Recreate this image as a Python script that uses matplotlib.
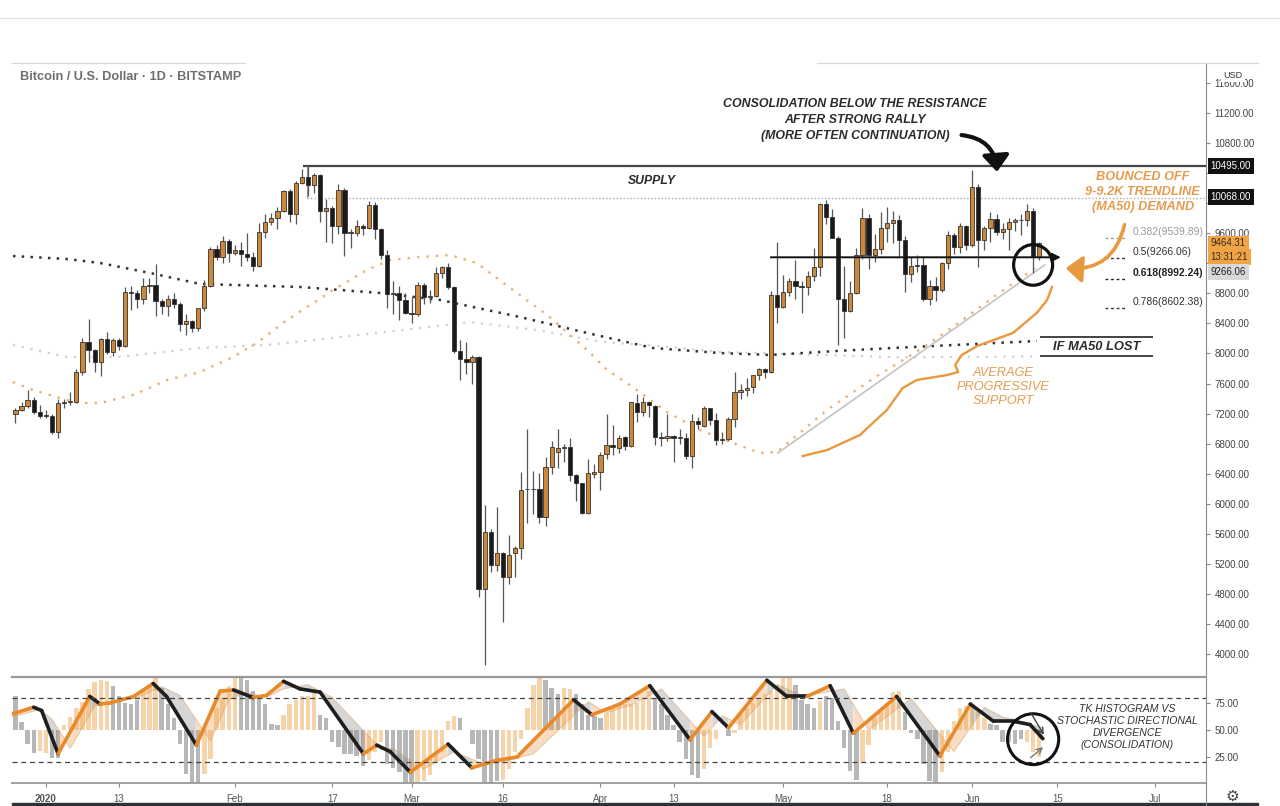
import numpy as np
import matplotlib.pyplot as plt
from matplotlib.patches import Ellipse, FancyArrowPatch, Rectangle
from matplotlib.lines import Line2D
import matplotlib.transforms as mtransforms

plt.rcParams['font.family'] = ['Liberation Sans', 'DejaVu Sans']

# ---- daily candles, day 0 = 2020-01-01 (Dec 27 2019 .. Jun 12 2020) ----
days = np.arange(-5, 164)
opens = [7195, 7245, 7300, 7385, 7225,
         7175, 7165, 6960, 7340, 7355, 7360, 7760, 8150, 8050, 7880, 8190, 8020, 8175, 8100, 8820, 8810,
         8720, 8900, 8910, 8700, 8630, 8730, 8660, 8390, 8430, 8340, 8600, 8900, 9390, 9290, 9500,
         9340, 9380, 9320, 9290, 9160, 9620, 9750, 9800, 9900, 10160, 9850, 10270, 10350, 10240, 10380,
         9900, 9930, 9700, 10180, 9600, 9610, 9690, 9670, 9970, 9660, 9310, 8790, 8810, 8710,
         8540, 8530, 8910, 8750, 8760, 9070, 9150, 8890, 8030, 7930, 7890, 7950, 4870, 5620, 5180, 5350,
         5030, 5340, 5410, 6190, 6200, 6190, 5820, 6490, 6690, 6740, 6760, 6380, 6270, 5880, 6400,
         6420, 6660, 6780, 6740, 6890, 6770, 7340, 7220, 7350, 7300, 6890, 6880, 6900, 6870, 6880,
         6630, 7100, 7030, 7270, 7120, 6850, 6860, 7130, 7490, 7520, 7550, 7720, 7790, 7760, 8780,
         8620, 8820, 8970, 8900, 8890, 9030, 9150, 9990, 9810, 9540, 8730, 8570, 8810, 9310, 9800, 9310,
         9390, 9670, 9730, 9780, 9510, 9060, 9170, 9180, 8720, 8900, 8840, 9210, 9580, 9420, 9700,
         9450, 10210, 9510, 9670, 9790, 9620, 9660, 9750, 9780, 9770, 9890, 9280]
highs = [7280, 7360, 7520, 7420, 7320,
         7245, 7200, 7400, 7390, 7490, 7790, 8200, 8460, 8060, 8200, 8290, 8200, 8200, 8880, 8900, 8850,
         9000, 9000, 9190, 8730, 8780, 8800, 8680, 8520, 8440, 8600, 8980, 9420, 9440, 9570, 9530,
         9440, 9480, 9600, 9350, 9740, 9850, 9870, 9950, 10170, 10190, 10300, 10450, 10495, 10400, 10390,
         10050, 9960, 10250, 10200, 9650, 9770, 9720, 10030, 10020, 9670, 9380, 8970, 8900, 8800,
         8750, 8950, 8940, 8850, 9150, 9170, 9200, 8900, 8180, 8150, 7980, 7970, 5980, 5660, 5950, 5360,
         5580, 5440, 6420, 7000, 6440, 6410, 6620, 6830, 7000, 6790, 6870, 6390, 6280, 6600, 6530,
         6690, 7200, 7050, 6920, 6900, 7360, 7460, 7420, 7370, 7310, 6950, 7200, 6910, 6990, 6940,
         7190, 7150, 7300, 7270, 7210, 6950, 7150, 7760, 7600, 7680, 7720, 7800, 7800, 8830, 9480,
         9050, 9010, 9250, 8960, 9100, 9400, 10000, 10040, 9920, 9570, 9170, 8970, 9400, 9930, 9850, 9590,
         9880, 9950, 9900, 9840, 9560, 9280, 9310, 9300, 8980, 9020, 9220, 9630, 9610, 9740, 9710,
         10440, 10250, 9690, 9880, 9850, 9740, 9800, 9800, 9860, 9990, 9940, 9490]
lows = [7080, 7230, 7280, 7200, 7140,
        7140, 6930, 6870, 7270, 7310, 7350, 7720, 7890, 7750, 7700, 7990, 7960, 8050, 8080, 8580, 8600,
        8660, 8810, 8500, 8520, 8500, 8610, 8300, 8240, 8290, 8300, 8560, 8880, 9250, 9200, 9220,
        9310, 9160, 9230, 9100, 9150, 9540, 9710, 9650, 9880, 9750, 9720, 10250, 10100, 10130, 9750,
        9480, 9470, 9590, 9300, 9400, 9560, 9580, 9660, 9520, 9260, 8600, 8520, 8450, 8530,
        8410, 8500, 8660, 8670, 8750, 9000, 8860, 8000, 7650, 7730, 7600, 4760, 3855, 5090, 5100, 4430,
        4930, 5020, 5270, 5750, 5870, 5750, 5700, 6400, 6480, 6550, 6300, 6040, 5860, 5860, 6340,
        6180, 6600, 6650, 6680, 6710, 6760, 7090, 7170, 7150, 6780, 6770, 6840, 6550, 6790, 6600,
        6470, 6990, 7020, 7050, 6780, 6790, 6830, 7020, 7400, 7440, 7480, 7650, 7670, 7740, 8400,
        8600, 8760, 8730, 8540, 8780, 8960, 9030, 9720, 9540, 8110, 8200, 8550, 8790, 9260, 9130, 9220,
        9330, 9480, 9470, 9290, 8820, 8950, 9090, 8700, 8640, 8700, 8820, 9120, 9330, 9340, 9380,
        9420, 9150, 9380, 9480, 9580, 9530, 9380, 9630, 9580, 9690, 9070, 9250]
closes = [7245, 7300, 7385, 7225, 7170,
          7165, 6960, 7340, 7355, 7360, 7760, 8150, 8050, 7880, 8190, 8020, 8175, 8100, 8820, 8810, 8720,
          8900, 8910, 8700, 8630, 8730, 8660, 8390, 8430, 8340, 8600, 8900, 9390, 9290, 9500, 9340,
          9380, 9320, 9290, 9160, 9620, 9750, 9800, 9900, 10160, 9850, 10270, 10350, 10240, 10380, 9900,
          9930, 9700, 10180, 9600, 9610, 9690, 9670, 9970, 9660, 9310, 8790, 8810, 8710, 8540,
          8530, 8910, 8750, 8760, 9070, 9150, 8890, 8030, 7930, 7890, 7950, 4860, 5620, 5180, 5350, 5030,
          5320, 5410, 6180, 6200, 6190, 5820, 6490, 6760, 6740, 6760, 6380, 6270, 5880, 6410, 6420,
          6650, 6780, 6750, 6875, 6770, 7350, 7220, 7350, 7310, 6890, 6880, 6900, 6870, 6880, 6630,
          7100, 7060, 7270, 7120, 6850, 6860, 7130, 7490, 7520, 7540, 7710, 7790, 7760, 8780, 8620,
          8820, 8970, 8900, 8890, 9030, 9150, 9990, 9810, 9540, 8730, 8570, 8810, 9310, 9800, 9310, 9390,
          9670, 9730, 9780, 9510, 9060, 9170, 9180, 8720, 8900, 8840, 9210, 9580, 9420, 9700, 9450,
          10210, 9510, 9670, 9790, 9620, 9660, 9750, 9780, 9770, 9890, 9280, 9464.31]
assert len(opens) == len(highs) == len(lows) == len(closes) == len(days)

# moving averages (day, price)
ma50_days = [-5.4, -2.1, 5.1, 8.9, 14.3, 19.9, 25.3, 30.7, 34.6, 38.9, 47.1, 52.7, 56.5, 61.4, 66.3,
             70.7, 77.3, 82.7, 88.8, 92.1, 96.3, 101.9, 107.3, 112.8, 117.2, 120, 128.2, 136.4, 144,
             150, 156, 162.6]
ma50_vals = [7620, 7514, 7341, 7341, 7447, 7647, 7753, 7953, 8139, 8406, 8845, 9111, 9244, 9284, 9310,
             9204, 8805, 8485, 8046, 7780, 7554, 7221, 6981, 6808, 6675, 6689, 7250, 7700, 8080,
             8420, 8780, 9150]
ma100_days = [-5.4, 3.5, 11.7, 25.3, 36.3, 47.1, 61.4, 69.6, 80.6, 91.4, 102.4, 110.6, 140, 162.6]
ma100_vals = [8113, 7953, 7953, 8073, 8113, 8206, 8339, 8419, 8312, 8153, 8086, 8020, 7950, 7960]
ma200_days = [-5.4, 3.5, 8.9, 17.1, 25.3, 41.7, 54.8, 64.7, 77.8, 88.8, 99.6, 110.6, 118.8, 129.8,
              139, 162.6]
ma200_vals = [9297, 9257, 9204, 9071, 8925, 8885, 8805, 8712, 8485, 8273, 8073, 8006, 7980, 8033,
              8073, 8166]

# hand drawn "average progressive support" curve (day, price)
support_days = [124.2, 128.2, 133.6, 135.7, 138.0, 140.6, 142.9, 147.9, 149.7, 149.2, 150.3, 152.8,
                158.7, 162.6, 164.3, 165.1]
support_vals = [6635, 6715, 6915, 7075, 7248, 7540, 7647, 7713, 7753, 7847, 7980, 8099, 8273, 8539,
                8712, 8885]

fib_levels = [9539.89, 9266.06, 8992.24, 8602.38]
fib_labels = ['0.382(9539.89)', '0.5(9266.06)', '0.618(8992.24)', '0.786(8602.38)']
price_ticks = list(range(4000, 11601, 400))
hidden_ticks = [9200, 10000, 10400]   # covered by the price boxes

# ---- lower pane: TK histogram / stochastic ----
hist_vals = [81, 57, 37, 29, 31,
             29, 24, 24, 55, 62, 70, 76, 88, 94, 96,
             95, 91, 81, 75, 74, 78, 86, 91, 99, 89,
             74, 61, 37, 9, 1, 1, 9, 23, 70, 80,
             91, 98, 99, 96, 86, 81, 74, 56, 55, 64,
             74, 78, 81, 81, 84, 64, 61, 39, 34, 28,
             28, 26, 17, 22, 30, 39, 19, 15, 11, 1,
             1, 1, 3, 8, 20, 30, 58, 63, 61, 50,
             37, 23, 1, 1, 3, 4, 14, 30, 42, 70,
             92, 100, 96, 89, 83, 89, 88, 83, 74, 64,
             63, 61, 66, 70, 74, 74, 74, 75, 80, 86,
             80, 74, 64, 55, 39, 23, 8, 6, 14, 33,
             42, 50, 44, 47, 64, 70, 75, 78, 83, 86,
             92, 99, 99, 92, 78, 74, 70, 77, 81, 80,
             58, 33, 12, 4, 20, 36, 61, 67, 75, 85,
             86, 67, 47, 42, 19, 3, 1, 11, 30, 58,
             70, 72, 74, 67, 61, 56, 55, 39, 39, 37,
             42, 39, 30, 25]
hist_kind = ("ggggo" "oggooooooo" "ogggggooog" "ggggggoooo" "oogggggggo" "oooooggggg"
             "gggooogggg" "gooooooogg" "gggggooooo" "oogggooggg" "ggoooooooo" "ggggggggoo"
             "oogooooooo" "oooggggogg" "ggggoooooo" "oggggggooo" "oooooggggg" "gooo")
assert len(hist_vals) == len(days) == len(hist_kind)

osc_days = [-5.5, -2, -0.7, 2, 7.2, 8.9, 10.5, 14.4, 17.6, 19.8, 24.7, 28.6, 30.8, 34, 36.2, 39, 41.7,
            45, 52.1, 54.3, 56.5, 59.8, 66, 69.9, 74, 77.3, 86.6, 89.6, 94.2, 99.1, 105.7, 109.3, 112,
            118.3, 121.6, 124.9, 128.7, 132.5, 139.6, 146.7, 151.7, 155.5, 158.8, 161.5, 163.6]
osc_vals = [65, 71, 68, 28, 81, 74, 75, 81, 93, 81, 36, 86, 87, 80, 82, 95, 88,
            85, 28, 36, 30, 11, 37, 15, 22, 25, 78, 64, 74, 91, 41, 67, 52,
            96, 81, 81, 91, 47, 81, 26, 74, 58, 58, 55, 42]
lag_days = [-5.5, -1, 1, 4, 8, 11, 15, 19, 22, 27, 30, 33, 36, 39, 43, 47, 55, 57, 62, 67, 72, 76, 80,
            89, 92, 96, 101, 108, 111, 114, 120, 124, 127, 131, 135, 142, 149, 154, 157, 160, 163.6]
lag_vals = [62, 69, 60, 33, 72, 76, 80, 90, 82, 40, 78, 85, 80, 88, 92, 80, 32, 33, 14, 30, 18, 22, 28,
            76, 66, 73, 88, 44, 63, 55, 92, 82, 84, 88, 50, 79, 30, 71, 62, 58, 52]

tick_days = [0, 12, 31, 47, 60, 75, 91, 103, 121, 138, 152, 166, 182]
tick_labels = ['2020', '13', 'Feb', '17', 'Mar', '16', 'Apr', '13', 'May', '18', 'Jun', '15', 'Jul']

ORANGE = '#cd873b'
ORANGE_TXT = '#e59b4d'
GRAY_TXT = '#555555'

W, H = 1280, 806
fig = plt.figure(figsize=(W / 100, H / 100), dpi=100)
ax = fig.add_axes([12 / W, 1 - 677 / H, 1194 / W, 614 / H])
ax2 = fig.add_axes([12 / W, 1 - 783 / H, 1194 / W, 106 / H], sharex=ax)

xmin, xmax = -5.56, 190.37
ax.set_xlim(xmin, xmax)
ax.set_ylim(3694, 11866)
ax2.set_ylim(1, 99)

# moving averages
ax.plot(ma100_days, ma100_vals, color='#cfcfcf', lw=1.6, ls=(0, (1, 3)), zorder=1)
ax.plot(ma200_days, ma200_vals, color='#333333', lw=1.8, ls=(0, (1, 2.5)), zorder=1)
ax.plot(ma50_days, ma50_vals, color='#e9b271', lw=1.7, ls=(0, (1, 3)), zorder=1)

# supply zone
ax.hlines(10495, 42.2, xmax, color='#444444', lw=1.6, zorder=2)
ax.vlines(42.9, 10068, 10495, color='#999999', lw=0.8, zorder=2)
ax.hlines(10068, 42.9, xmax, color='#aaaaaa', lw=1.0, ls=(0, (1, 1.5)), zorder=2)
ax.text(99.5, 10296, 'SUPPLY', ha='center', va='center', fontsize=8.8, fontweight='bold',
        fontstyle='italic', color='#2b2b2b')

# trend line and support curve
ax.plot([120.1, 163.9], [6675, 9178], color='#c4c4c4', lw=1.2, zorder=2)
ax.plot(support_days, support_vals, color='#e8983e', lw=1.7, zorder=3)

# candles
o = np.array(opens); c = np.array(closes)
up = c >= o
ax.vlines(days, lows, highs, color='#555555', lw=0.9, zorder=4)
ax.bar(days, np.maximum(np.abs(c - o), 12), bottom=np.minimum(o, c), width=0.7,
       color=np.where(up, ORANGE, '#1a1a1a'), edgecolor='#333333', lw=0.6, zorder=5)

# 0.5 level arrow
ax.annotate('', xy=(167.0, 9280), xytext=(118.5, 9280),
            arrowprops=dict(arrowstyle='-|>', color='#111111', lw=1.4, mutation_scale=13), zorder=6)
ax.add_patch(Ellipse((162.0, 9178), width=6.4, height=540, fill=False, ec='#111111', lw=2.3, zorder=7))

# fib labels
for lvl, lab, col in zip(fib_levels, fib_labels, ['#9a9a9a', '#333333', '#222222', '#333333']):
    ax.hlines(lvl, 173.8, 177.1, color=col, lw=1.0, ls=(0, (2, 2)))
    ax.text(178.4, lvl + 80, lab, fontsize=7.5, color=col, va='center', ha='left',
            fontweight='bold' if lab.startswith('0.618') else 'normal')

# annotations
ax.text(132.8, 11108, 'CONSOLIDATION BELOW THE RESISTANCE\nAFTER STRONG RALLY\n(MORE OFTEN CONTINUATION)',
        ha='center', va='center', fontsize=8.9, fontweight='bold', fontstyle='italic', color='#2b2b2b',
        linespacing=1.45)
ax.add_patch(FancyArrowPatch((149.8, 10910), (156.1, 10380), connectionstyle='arc3,rad=-0.45',
                             arrowstyle='-|>,head_length=0.55,head_width=0.45', mutation_scale=18,
                             color='#111111', lw=3.0, zorder=8))
ax.text(180.0, 10149, 'BOUNCED OFF\n9-9.2K TRENDLINE\n(MA50) DEMAND', ha='center', va='center',
        fontsize=9.2, fontweight='bold', fontstyle='italic', color=ORANGE_TXT, linespacing=1.3)
ax.add_patch(FancyArrowPatch((177.1, 9750), (166.9, 9138), connectionstyle='arc3,rad=-0.45',
                             arrowstyle='-|>,head_length=0.55,head_width=0.45', mutation_scale=18,
                             color='#e8983e', lw=2.6, zorder=8))
ax.text(172.5, 8086, 'IF MA50 LOST', ha='center', va='center', fontsize=9.3, fontstyle='italic',
        fontweight='bold', color='#2b2b2b')
ax.hlines([8219, 7966], 163.2, 181.7, color='#222222', lw=1.2)
ax.text(157.1, 7554, 'AVERAGE\nPROGRESSIVE\nSUPPORT', ha='center', va='center', fontsize=9.2,
        fontstyle='italic', color=ORANGE_TXT, linespacing=1.25)

# price axis
for a in (ax, ax2):
    for s in ('top', 'left', 'bottom'):
        a.spines[s].set_visible(False)
    a.spines['right'].set_color('#8a8a8a')
    a.yaxis.tick_right()
ax.set_yticks(price_ticks)
ax.set_yticklabels(['' if v in hidden_ticks else f'{v:.2f}' for v in price_ticks])
ax.tick_params(axis='y', length=3, color='#888888', labelsize=7, labelcolor='#444444', pad=3)
ax.tick_params(axis='x', bottom=False, labelbottom=False)

blend = mtransforms.blended_transform_factory(ax.transAxes, ax.transData)
def price_box(y, txt, fc, tc):
    ax.text(1.004, y, txt, transform=blend, fontsize=7, color=tc, ha='left', va='center',
            bbox=dict(boxstyle='square,pad=0.3', fc=fc, ec='none'), zorder=10, clip_on=False)
price_box(10495, '10495.00', '#111111', 'white')
price_box(10082, '10068.00', '#111111', 'white')
price_box(9464.31, '9464.31', '#f0a445', '#3a2a1a')
price_box(9284, '13:31:21', '#f0a445', '#3a2a1a')
price_box(9084, '9266.06', '#d9d9d9', '#222222')

# lower pane
hist_days = days
bar_colors = ['#f5cc99' if k == 'o' else '#ababab' for k in hist_kind]
ax2.bar(hist_days, np.array(hist_vals) - 50, bottom=50, width=0.72, color=bar_colors, alpha=0.85,
        lw=0, zorder=1)
t = np.linspace(osc_days[0], osc_days[-1], 3000)
m = np.interp(t, osc_days, osc_vals)
lg = np.interp(t, lag_days, lag_vals)
rising = np.gradient(m) > 0
ax2.fill_between(t, m, lg, where=rising, color='#f0a050', alpha=0.35, lw=0, zorder=2)
ax2.fill_between(t, m, lg, where=~rising, color='#8c8c8c', alpha=0.35, lw=0, zorder=2)
ax2.plot(lag_days, lag_vals, color='#d9a46c', lw=0.8, alpha=0.5, zorder=3)
for i in range(len(osc_days) - 1):
    col = '#e8892b' if osc_vals[i + 1] > osc_vals[i] else '#1e1e1e'
    ax2.plot(osc_days[i:i + 2], osc_vals[i:i + 2], color=col, lw=2.6, solid_capstyle='round', zorder=4)
for lv in (80, 20):
    ax2.axhline(lv, color='#444444', lw=0.9, ls=(0, (4, 3)), zorder=5)
ax2.spines['bottom'].set_visible(True)
ax2.spines['bottom'].set_color('#999999')
ax2.spines['bottom'].set_linewidth(1.3)
ax2.spines['top'].set_visible(True)
ax2.spines['top'].set_color('#999999')
ax2.spines['top'].set_linewidth(1.6)
ax2.set_yticks([25, 50, 75])
ax2.set_yticklabels(['25.00', '50.00', '75.00'])
ax2.tick_params(axis='y', length=3, color='#888888', labelsize=7, labelcolor='#444444', pad=3)
ax2.set_xticks(tick_days)
ax2.set_xticklabels(tick_labels)
ax2.tick_params(axis='x', length=3, color='#888888', labelsize=7, labelcolor=GRAY_TXT, pad=5)
ax2.get_xticklabels()[0].set_fontweight('bold')

ax2.add_patch(Ellipse((162.0, 41.5), width=8.4, height=47, fill=False, ec='#111111', lw=2.2, zorder=7))
ax2.annotate('', xy=(164.0, 43.4), xytext=(161.5, 67),
             arrowprops=dict(arrowstyle='->', color='#444444', lw=1.0), zorder=8)
ax2.annotate('', xy=(164.0, 35.8), xytext=(161.2, 22.6),
             arrowprops=dict(arrowstyle='->', color='#777777', lw=1.0), zorder=8)
ax2.text(177.4, 52.8, 'TK HISTOGRAM VS\nSTOCHASTIC DIRECTIONAL\nDIVERGENCE\n(CONSOLIDATION)',
         ha='center', va='center', fontsize=7.6, fontstyle='italic', color='#333333', linespacing=1.22)

# frame pieces, header
fig.add_artist(Line2D([0, 1], [1 - 18 / H] * 2, color='#e2e2e2', lw=0.8))
fig.add_artist(Line2D([12 / W, 245 / W], [1 - 63 / H] * 2, color='#d8d8d8', lw=0.9))
fig.add_artist(Line2D([817 / W, 1258 / W], [1 - 63 / H] * 2, color='#d8d8d8', lw=0.9))
fig.add_artist(Line2D([1206 / W] * 2, [0, 1 - 783 / H], color='#8a8a8a', lw=0.8))
fig.add_artist(Rectangle((12 / W, 0), 1246 / W, 3 / H, color='#2e3238'))
fig.text(20 / W, 1 - 77 / H, 'Bitcoin / U.S. Dollar · 1D · BITSTAMP', fontsize=9.2, fontweight='bold',
         color='#6e6e6e', va='center')
fig.text(1233 / W, 1 - 75 / H, 'USD', fontsize=6.5, color='#333333', ha='center', va='center',
         bbox=dict(boxstyle='square,pad=0.3', fc='white', ec='none'))
fig.text(1232 / W, 1 - 796 / H, '⚙', fontsize=11, color='#444444', ha='center', va='center',
         family='DejaVu Sans')

fig.savefig('out.png', dpi=100, facecolor='white')
